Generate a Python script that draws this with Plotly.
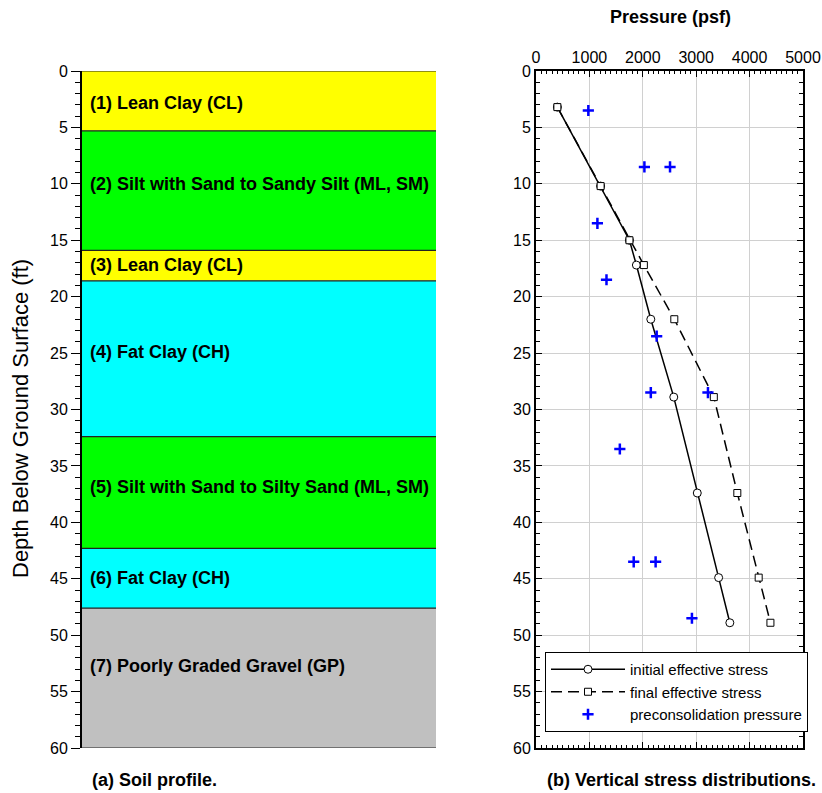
import plotly.graph_objects as go

# ---------------- data ----------------
layer_tops = [0, 5.3, 15.9, 18.6, 32.4, 42.3, 47.6]
layer_bottoms = [5.3, 15.9, 18.6, 32.4, 42.3, 47.6, 60]
layer_names = [
    "(1) Lean Clay (CL)",
    "(2) Silt with Sand to Sandy Silt (ML, SM)",
    "(3) Lean Clay (CL)",
    "(4) Fat Clay (CH)",
    "(5) Silt with Sand to Silty Sand (ML, SM)",
    "(6) Fat Clay (CH)",
    "(7) Poorly Graded Gravel (GP)",
]
layer_colors = ["#FFFF00", "#00FF00", "#FFFF00", "#00FFFF", "#00FF00", "#00FFFF", "#C0C0C0"]
label_depths = [2.8, 10.0, 17.2, 24.9, 36.9, 44.9, 52.7]

stress_depth = [3.2, 10.2, 15.0, 17.2, 22.0, 28.9, 37.4, 44.9, 48.9]
initial_stress = [400, 1210, 1750, 1880, 2150, 2580, 3020, 3420, 3630]
final_stress = [400, 1210, 1750, 2020, 2590, 3330, 3770, 4170, 4390]

precon_depth = [3.5, 8.5, 8.5, 13.5, 18.5, 23.5, 28.5, 28.5, 33.5, 43.5, 43.5, 48.5]
precon_pressure = [980, 2030, 2510, 1150, 1320, 2260, 2150, 3220, 1570, 1830, 2240, 2920]

depth_ticks = list(range(0, 61, 5))
pressure_ticks = [0, 1000, 2000, 3000, 4000, 5000]

FONT = "Liberation Sans, Arial, sans-serif"
W, H = 822, 793

fig = go.Figure()

# right panel traces
fig.add_trace(go.Scatter(
    x=initial_stress, y=stress_depth, xaxis="x2", yaxis="y2",
    mode="lines+markers", name="initial effective stress",
    line=dict(color="black", width=1.5),
    marker=dict(symbol="circle", size=8, color="white", line=dict(color="black", width=1)),
))
fig.add_trace(go.Scatter(
    x=final_stress, y=stress_depth, xaxis="x2", yaxis="y2",
    mode="lines+markers", name="final effective stress",
    line=dict(color="black", width=1.5, dash="11px,6px"),
    marker=dict(symbol="square", size=7, color="white", line=dict(color="black", width=1)),
))
fig.add_trace(go.Scatter(
    x=precon_pressure, y=precon_depth, xaxis="x2", yaxis="y2",
    mode="markers", name="preconsolidation pressure",
    marker=dict(symbol="cross-thin", size=8, color="blue", line=dict(color="blue", width=2.5)),
))

# dummy trace to anchor left axes
fig.add_trace(go.Scatter(x=[None], y=[None], xaxis="x", yaxis="y", showlegend=False, hoverinfo="skip"))

shapes = []
annotations = []
for top, bot, color in zip(layer_tops, layer_bottoms, layer_colors):
    shapes.append(dict(type="rect", xref="x domain", yref="y", x0=0, x1=1, y0=top, y1=bot,
                       fillcolor=color, line=dict(width=0), layer="below"))
bounds = sorted(set(layer_tops + layer_bottoms))
for b in bounds:
    shapes.append(dict(type="line", xref="x domain", yref="y", x0=0, x1=1, y0=b, y1=b,
                       line=dict(color="#222222", width=1.2), layer="below"))
for name, d in zip(layer_names, label_depths):
    annotations.append(dict(text="<b>%s</b>" % name, xref="x domain", yref="y", x=0, y=d,
                            xanchor="left", yanchor="middle", xshift=6, showarrow=False,
                            font=dict(family=FONT, size=18, color="black")))

annotations.append(dict(text="Depth Below Ground Surface (ft)", xref="paper", yref="paper",
                        x=20 / W, y=1 - 419 / H, xanchor="center", yanchor="middle",
                        textangle=-90, showarrow=False,
                        font=dict(family=FONT, size=22, color="black")))
annotations.append(dict(text="<b>Pressure (psf)</b>", xref="paper", yref="paper",
                        x=670 / W, y=1 - 17 / H, xanchor="center", yanchor="middle",
                        showarrow=False, font=dict(family=FONT, size=18, color="black")))
annotations.append(dict(text="<b>(a) Soil profile.</b>", xref="paper", yref="paper",
                        x=90 / W, y=1 - 780 / H, xanchor="left", yanchor="middle",
                        showarrow=False, font=dict(family=FONT, size=18, color="black")))
annotations.append(dict(text="<b>(b) Vertical stress distributions.</b>", xref="paper", yref="paper",
                        x=818 / W, y=1 - 780 / H, xanchor="right", yanchor="middle",
                        showarrow=False, font=dict(family=FONT, size=18, color="black")))

ydom = [1 - 748 / H, 1 - 71 / H]
tickfont = dict(family=FONT, size=16, color="black")

fig.update_layout(
    width=W, height=H, autosize=False,
    margin=dict(l=0, r=0, t=0, b=0, pad=0),
    paper_bgcolor="white", plot_bgcolor="white",
    font=dict(family=FONT, color="black"),
    shapes=shapes, annotations=annotations,
    xaxis=dict(domain=[82 / W, 436 / W], range=[0, 1], visible=False, fixedrange=True,
               automargin=False),
    yaxis=dict(domain=ydom, range=[60, 0], tickvals=depth_ticks, ticks="outside", ticklen=9,
               tickwidth=1, tickcolor="black", showline=True, linecolor="black", linewidth=2,
               showgrid=False, zeroline=False, tickfont=tickfont, automargin=False,
               minor=dict(dtick=1, ticks="outside", ticklen=5, tickcolor="black", showgrid=False)),
    xaxis2=dict(domain=[536 / W, 803 / W], range=[0, 5000], anchor="y2", side="top",
                tickvals=pressure_ticks, ticks="inside", ticklen=6, tickcolor="black",
                showline=True, linecolor="black", linewidth=2, mirror="ticks", automargin=False,
                showgrid=True, gridcolor="#d0d0d0", gridwidth=1, zeroline=False, tickfont=tickfont,
                minor=dict(dtick=100, ticks="inside", ticklen=3, tickcolor="black", showgrid=False)),
    yaxis2=dict(domain=ydom, range=[60, 0], anchor="x2", tickvals=depth_ticks, ticks="inside",
                ticklen=6, tickcolor="black", showline=True, linecolor="black", linewidth=2,
                mirror="ticks", showgrid=True, gridcolor="#d0d0d0", gridwidth=1, zeroline=False,
                tickfont=tickfont, automargin=False,
                minor=dict(dtick=1, ticks="inside", ticklen=4, tickcolor="black", showgrid=False)),
    legend=dict(x=545 / W, y=1 - 652 / H, xanchor="left", yanchor="top",
                bgcolor="white", bordercolor="black", borderwidth=1,
                font=dict(family=FONT, size=15, color="black"), itemwidth=74,
                tracegroupgap=0),
    showlegend=True,
)

fig.write_html("out.html", config={"displayModeBar": False},
               post_script="document.body.style.margin='0';")
